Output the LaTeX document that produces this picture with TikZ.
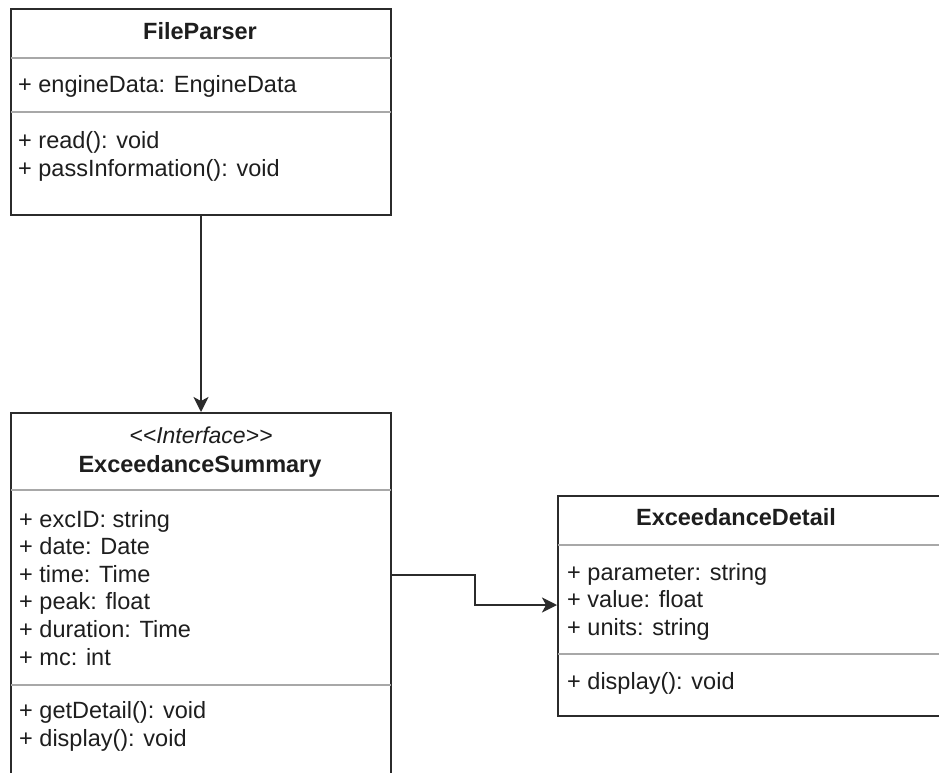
\documentclass[tikz,border=0pt]{standalone}
\usepackage{fontspec}
\newfontfamily\umlfont{Liberation Sans}
\usetikzlibrary{arrows.meta}
\definecolor{umlline}{HTML}{2B2B2B}
\definecolor{umlsep}{HTML}{A8A8A8}
\definecolor{umltext}{HTML}{1E1E1E}
\tikzstyle{classbox} = [rectangle, draw=umlline, line width=2pt, fill=white, anchor=north west, inner sep=0pt]
\tikzstyle{sep} = [draw=umlsep, line width=1.5pt, shorten <=1pt, shorten >=1pt]
\tikzstyle{member} = [anchor=base west, inner sep=0pt, text=umltext, font=\umlfont\fontsize{23.5}{27}\selectfont]
\tikzstyle{title} = [anchor=base, inner sep=0pt, text=umltext, font=\umlfont\bfseries\fontsize{23.5}{27}\selectfont]
\tikzstyle{stereo} = [anchor=base, inner sep=0pt, text=umltext, font=\umlfont\itshape\fontsize{23}{27}\selectfont]
\tikzstyle{arrow} = [draw=umlline, line width=2pt, -{Stealth[length=15pt,width=15pt,inset=4pt]}]

\begin{document}
\begin{tikzpicture}[x=1pt, y=-1pt]
		\clip (0,0) rectangle (939,773);
		\fill[white] (0,0) rectangle (939,773);

		%FileParser
		\node[classbox, minimum width=380, minimum height=206] (fp) at (10,8) {};
		\node[title] (fp_name) at (200,40) {FileParser};
		\draw[sep] (fp.west |- 0,58) -- (fp.east |- 0,58);
		\node[member] (fp_a1) at (18,93) {+ engineData: EngineData};
		\draw[sep] (fp.west |- 0,112) -- (fp.east |- 0,112);
		\node[member] (fp_m1) at (18,148) {+ read(): void};
		\node[member] (fp_m2) at (18,176) {+ passInformation(): void};

		%ExceedanceSummary
		\node[classbox, minimum width=380, minimum height=420] (es) at (10,412) {};
		\node[stereo] (es_stereo) at (201,443) {<\kern0pt<Interface>\kern0pt>};
		\node[title] (es_name) at (200,472) {ExceedanceSummary};
		\draw[sep] (es.west |- 0,490) -- (es.east |- 0,490);
		\node[member] (es_a1) at (19,527) {+ excID: string};
		\node[member] (es_a2) at (19,554.6) {+ date: Date};
		\node[member] (es_a3) at (19,582.2) {+ time: Time};
		\node[member] (es_a4) at (19,609.8) {+ peak: float};
		\node[member] (es_a5) at (19,637.4) {+ duration: Time};
		\node[member] (es_a6) at (19,665) {+ mc: int};
		\draw[sep] (es.west |- 0,685) -- (es.east |- 0,685);
		\node[member] (es_m1) at (19,718) {+ getDetail(): void};
		\node[member] (es_m2) at (19,746) {+ display(): void};

		%ExceedanceDetail
		\node[classbox, minimum width=400, minimum height=220] (ed) at (557,495) {};
		\node[title] (ed_name) at (736,525) {ExceedanceDetail};
		\draw[sep] (ed.west |- 0,545) -- (ed.east |- 0,545);
		\node[member] (ed_a1) at (567,580) {+ parameter: string};
		\node[member] (ed_a2) at (567,607.5) {+ value: float};
		\node[member] (ed_a3) at (567,635) {+ units: string};
		\draw[sep] (ed.west |- 0,654) -- (ed.east |- 0,654);
		\node[member] (ed_m1) at (567,689) {+ display(): void};

		%connections
		\coordinate (es_out) at (es.east |- 0,575);
		\coordinate (ed_in) at (ed.west |- 0,605);
		\draw[arrow] (fp.south) -- (es.north);
		\draw[arrow] (es_out) -- ++(83,0) |- (ed_in);
	\end{tikzpicture}
\end{document}
